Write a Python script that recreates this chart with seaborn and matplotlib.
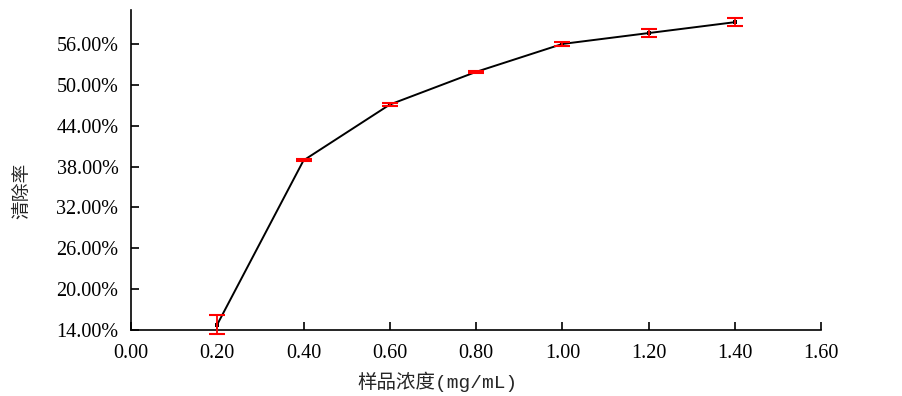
import numpy as np
import pandas as pd
import seaborn as sns
import matplotlib
matplotlib.use('Agg')
import matplotlib.pyplot as plt
from matplotlib.ticker import FuncFormatter

# values
concentration = [0.2, 0.4, 0.6, 0.8, 1.0, 1.2, 1.4]
clearance = [14.8, 38.9, 47.1, 51.9, 56.0, 57.6, 59.2]
error = [1.4, 0.15, 0.2, 0.2, 0.25, 0.6, 0.6]

x_ticks = [0.0, 0.2, 0.4, 0.6, 0.8, 1.0, 1.2, 1.4, 1.6]
y_ticks = [14, 20, 26, 32, 38, 44, 50, 56]


def plot(df):
    sns.set_style("ticks")
    plt.rcParams['font.family'] = ['Liberation Serif', 'Noto Sans CJK SC']
    fig = plt.figure(figsize=(9.03, 3.96), dpi=100)
    ax = fig.add_axes([0.145, 0.1667, 0.7645, 0.8083])

    sns.lineplot(data=df, x='conc', y='rate', color='black', linewidth=1.4,
                 marker='s', markersize=3, markeredgewidth=0, ax=ax)
    ax.errorbar(df['conc'], df['rate'], yerr=df['err'], fmt='none',
                ecolor='red', elinewidth=1.3, capsize=5.5, capthick=1.5,
                clip_on=False, zorder=3)

    ax.set_xlim(0, 1.6)
    ax.set_ylim(14, 61)
    ax.set_xticks(x_ticks)
    ax.set_yticks(y_ticks)
    ax.xaxis.set_major_formatter(FuncFormatter(lambda v, p: f'{v:.2f}'))
    ax.yaxis.set_major_formatter(FuncFormatter(lambda v, p: f'{v:.2f}%'))
    ax.tick_params(direction='in', length=6, width=1.2, labelsize=14.5,
                   colors='black')
    ax.tick_params(axis='x', pad=10)
    ax.tick_params(axis='y', pad=9)

    for s in ['top', 'right']:
        ax.spines[s].set_visible(False)
    for s in ['left', 'bottom']:
        ax.spines[s].set_linewidth(1.2)
        ax.spines[s].set_color('black')

    ax.set_xlabel('样品浓度(mg/mL)', fontsize=14,
                  family=['Liberation Mono', 'Noto Sans CJK SC'])
    ax.set_ylabel('清除率', fontsize=13.5, family=['Noto Sans CJK SC'])
    ax.xaxis.set_label_coords(0.4435, -0.13)
    ax.yaxis.set_label_coords(-0.1435, 0.435)

    fig.savefig('out.png', dpi=100)
    plt.close(fig)


if __name__ == "__main__":
    data = pd.DataFrame({'conc': concentration, 'rate': clearance, 'err': error})
    plot(data)
